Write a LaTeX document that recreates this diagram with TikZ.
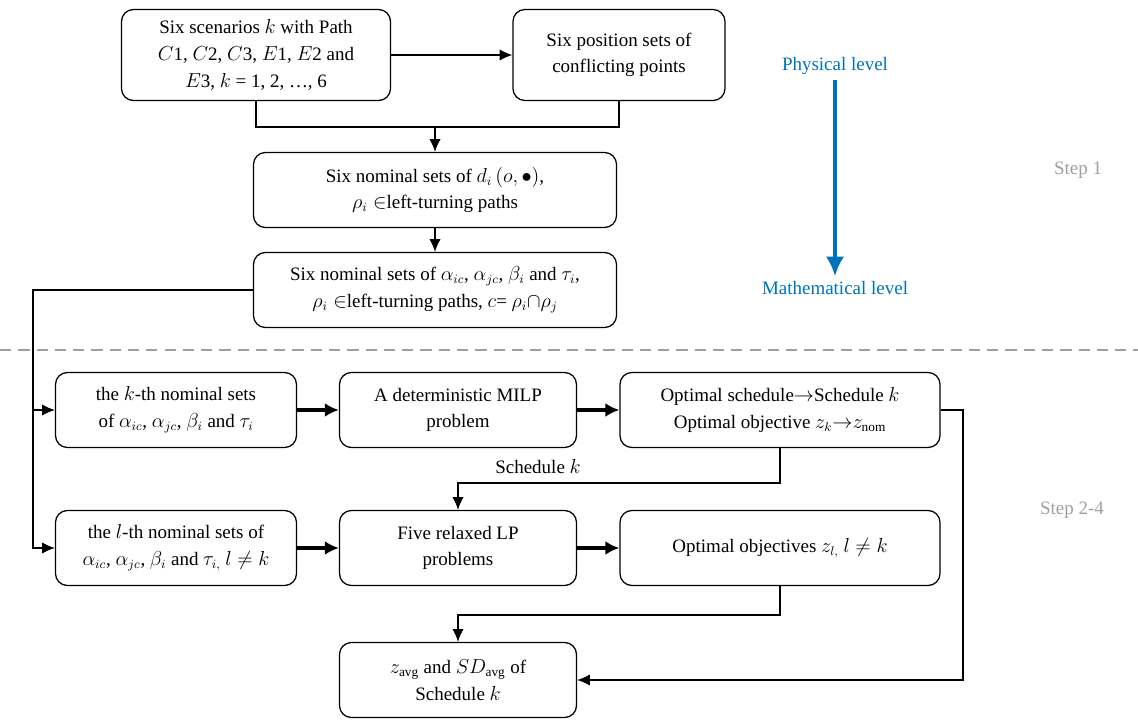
\documentclass[tikz,border=0pt]{standalone}
\usepackage{amssymb}
\usepackage{fontspec}
\setmainfont{Liberation Serif}
\usepackage{tikz}
\usetikzlibrary{arrows.meta, calc, positioning}

\definecolor{levelblue}{RGB}{0,114,188}
\definecolor{stepgray}{RGB}{160,160,160}

\begin{document}
\begin{tikzpicture}[x=0.025cm, y=-0.025cm,
                        font=\fontsize{13.5}{19}\selectfont,
                        box/.style={draw, rounded corners=0.3cm, line width=0.9pt, align=center, inner sep=0pt},
                        link/.style={line width=0.9pt},
                        flow/.style={line width=0.9pt, -{Latex[length=9pt, width=8pt]}},
                        heavy/.style={line width=2.2pt, -{Latex[length=10pt, width=10pt]}},
                        level/.style={text=levelblue},
                        steplabel/.style={text=stepgray}]
                        \useasboundingbox (0,0) rectangle (1138,721);

                        \node[box, minimum width=6.725cm, minimum height=2.275cm] (scen) at (256, 55) {Six scenarios $k$ with Path\\$C$1, $C$2, $C$3, $E$1, $E$2 and\\$E$3, $k$ = 1, 2, \ldots, 6};
                        \node[box, minimum width=5.3cm, minimum height=2.275cm] (pos) at (619, 55) {Six position sets of\\conflicting points};
                        \node[box, minimum width=9.075cm, minimum height=1.875cm] (dset) at (435, 190) {Six nominal sets of $d_i\,(o, \bullet)$,\\$\rho_i \in$left-turning paths};
                        \node[box, minimum width=9.075cm, minimum height=1.875cm] (aset) at (435, 290) {Six nominal sets of $\alpha_{ic}$, $\alpha_{jc}$, $\beta_i$ and $\tau_i$,\\$\rho_i \in$left-turning paths, $c$= $\rho_i{\cap}\rho_j$};

                        \node[box, minimum width=6.025cm, minimum height=1.875cm] (kset) at (176, 410) {the $k$-th nominal sets\\of $\alpha_{ic}$, $\alpha_{jc}$, $\beta_i$ and $\tau_i$};
                        \node[box, minimum width=5.925cm, minimum height=1.875cm] (milp) at (458, 410) {A deterministic MILP\\problem};
                        \node[box, minimum width=8cm, minimum height=1.875cm] (opt) at (780, 410) {Optimal schedule$\rightarrow$Schedule $k$\\Optimal objective $z_k{\rightarrow}z_{\mathrm{nom}}$};

                        \node[box, minimum width=6.025cm, minimum height=1.875cm] (lset) at (176, 548) {the $l$-th nominal sets of\\$\alpha_{ic}$, $\alpha_{jc}$, $\beta_i$ and $\tau_{i,}$ $l \neq k$};
                        \node[box, minimum width=5.925cm, minimum height=1.875cm] (lp) at (458, 548) {Five relaxed LP\\problems};
                        \node[box, minimum width=8cm, minimum height=1.875cm] (objs) at (780, 548) {Optimal objectives $z_{l,}$ $l \neq k$};

                        \node[box, minimum width=5.925cm, minimum height=1.875cm] (avg) at (458, 680) {$z_{\mathrm{avg}}$ and $SD_{\mathrm{avg}}$ of\\Schedule $k$};

                        \node (sched) at (538, 467) {Schedule $k$};

                        \node[level] (phys) at (835, 66) {Physical level};
                        \node[level] (mathl) at (835, 288) {Mathematical level};
                        \node[steplabel] (step1) at (1078, 170) {Step 1};
                        \node[steplabel] (step24) at (1072, 510) {Step 2-4};

                        \coordinate (join) at (435, 127);
                        \coordinate (bus) at (33, 548);
                        \coordinate (s1) at (458, 483);
                        \coordinate (s2) at (458, 615);
                        \coordinate (side) at (963, 680);

                        % step 1
                        \draw[flow] (scen) -- (pos);
                        \draw[link] (scen.south) |- (join) -| (pos.south);
                        \draw[flow] (join) -- (dset);
                        \draw[flow] (dset) -- (aset);
                        \draw[flow] (aset.west) -| (bus) -- (lset.west);
                        \draw[flow] (kset.west -| bus) -- (kset.west);

                        % steps 2-4
                        \draw[heavy] (kset) -- (milp);
                        \draw[heavy] (milp) -- (opt);
                        \draw[heavy] (lset) -- (lp);
                        \draw[heavy] (lp) -- (objs);
                        \draw[flow] (opt.south) |- (s1) -- (lp.north);
                        \draw[flow] (objs.south) |- (s2) -- (avg.north);
                        \draw[flow] (opt.east) -| (side) -- (avg.east);

                        \draw[levelblue, line width=2.8pt, -{Latex[length=14pt, width=13pt]}] (phys) -- (mathl);
                        \draw[stepgray, line width=0.9pt, dash pattern=on 8pt off 5pt] (0, 350) -- (1138, 350);
                    \end{tikzpicture}
\end{document}
